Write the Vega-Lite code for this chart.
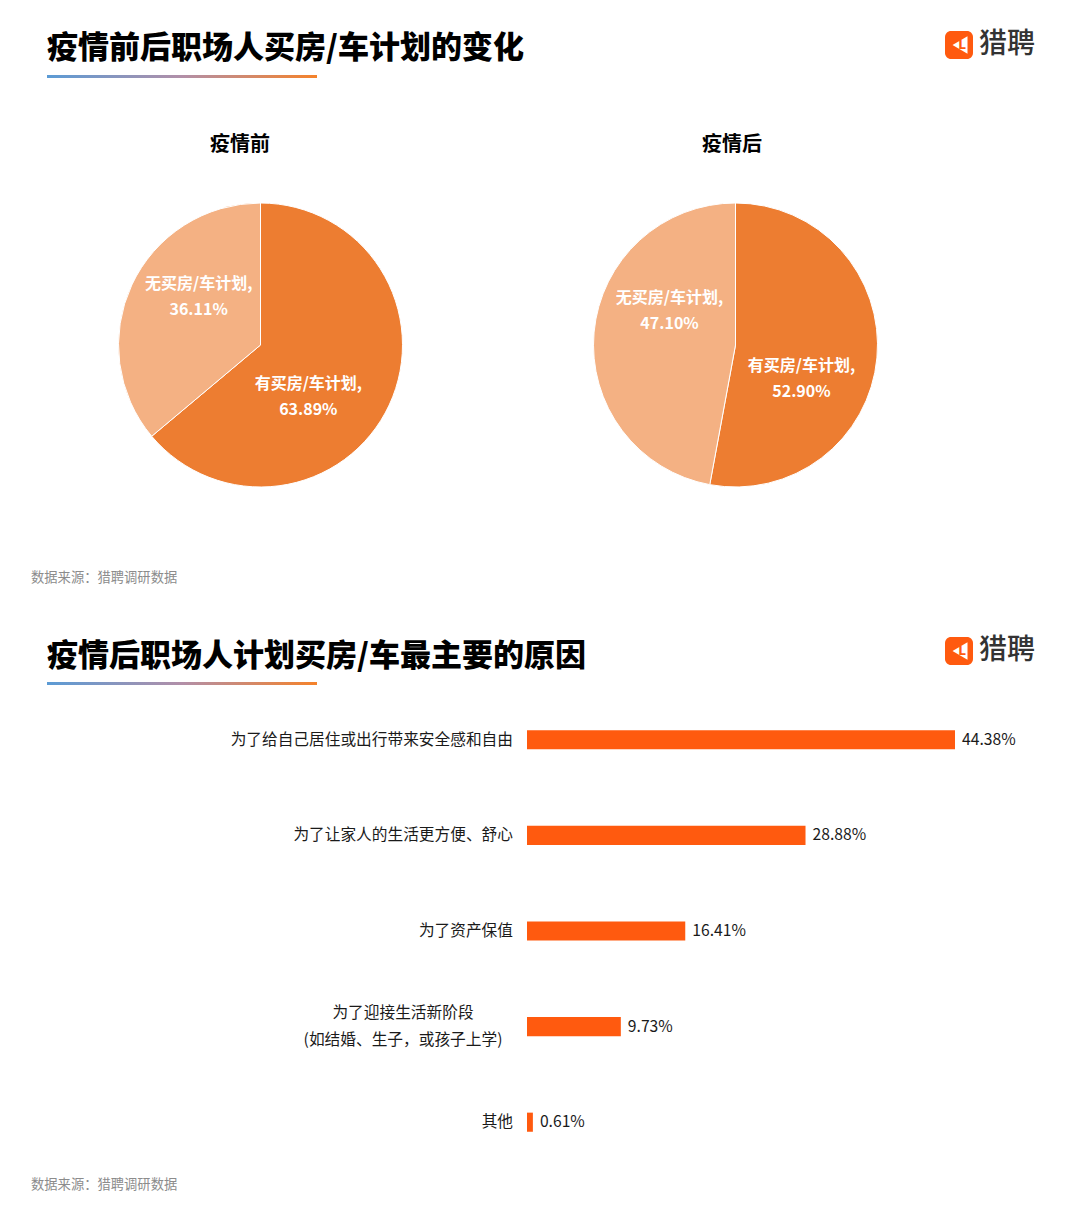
{
  "$schema": "https://vega.github.io/schema/vega-lite/v6.json",
  "background": "white",
  "padding": 0,
  "spacing": 0,
  "config": {"view": {"stroke": null}, "font": "Noto Sans CJK SC", "concat": {"spacing": 0}},
  "vconcat": [
    {
      "width": 1080,
      "height": 165,
      "layer": [
        {
          "data": {"values": [{"t": "疫情前后职场人买房/车计划的变化"}]},
          "mark": {"type": "text", "align": "left", "baseline": "middle", "fontSize": 31, "fontWeight": 900, "color": "#000000"},
          "encoding": {
            "text": {"field": "t"},
            "x": {"datum": 47, "type": "quantitative", "scale": {"domain": [0, 1080], "nice": false, "zero": false}, "axis": null},
            "y": {"datum": 49, "type": "quantitative", "scale": {"domain": [0, 165], "reverse": true, "nice": false, "zero": false}, "axis": null}
          }
        },
        {
          "data": {"values": [{"item": "underline"}]},
          "mark": {"type": "rect", "fill": {"gradient": "linear", "x1": 0, "y1": 0, "x2": 1, "y2": 0, "stops": [{"offset": 0, "color": "#5B9BD5"}, {"offset": 0.5, "color": "#B28FA8"}, {"offset": 1, "color": "#F5822A"}]}},
          "encoding": {
            "x": {"datum": 47, "type": "quantitative"},
            "x2": {"datum": 317},
            "y": {"datum": 75, "type": "quantitative"},
            "y2": {"datum": 78}
          }
        },
        {
          "data": {"values": [{"item": "logo"}]},
          "mark": {"type": "rect", "fill": "#FF5A0F", "cornerRadius": 6},
          "encoding": {
            "x": {"datum": 945, "type": "quantitative"},
            "x2": {"datum": 973},
            "y": {"datum": 31, "type": "quantitative"},
            "y2": {"datum": 59}
          }
        },
        {
          "data": {"values": [{"item": "logo"}]},
          "mark": {"type": "point", "shape": "triangle-left", "filled": true, "fill": "white", "opacity": 1, "size": 300},
          "encoding": {
            "x": {"datum": 960, "type": "quantitative"},
            "y": {"datum": 45, "type": "quantitative"}
          }
        },
        {
          "data": {"values": [{"t": "L"}]},
          "mark": {"type": "text", "align": "center", "baseline": "middle", "fontSize": 12, "fontWeight": "bold", "color": "#FF5A0F", "font": "DejaVu Sans"},
          "encoding": {
            "text": {"field": "t"},
            "x": {"datum": 962, "type": "quantitative"},
            "y": {"datum": 45, "type": "quantitative"}
          }
        },
        {
          "data": {"values": [{"t": "猎聘"}]},
          "mark": {"type": "text", "align": "left", "baseline": "middle", "fontSize": 28, "fontWeight": 500, "color": "#333333"},
          "encoding": {
            "text": {"field": "t"},
            "x": {"datum": 979, "type": "quantitative"},
            "y": {"datum": 45, "type": "quantitative"}
          }
        },
        {
          "data": {"values": [{"t": "疫情前", "cx": 240}, {"t": "疫情后", "cx": 732}]},
          "mark": {"type": "text", "align": "center", "baseline": "middle", "fontSize": 20, "fontWeight": "bold", "color": "#000000"},
          "encoding": {
            "text": {"field": "t"},
            "x": {"field": "cx", "type": "quantitative"},
            "y": {"datum": 145, "type": "quantitative"}
          }
        }
      ]
    },
    {
      "spacing": 0,
      "hconcat": [
        {
          "width": 23,
          "height": 360,
          "data": {"values": []},
          "mark": "point"
        },
        {
          "width": 475,
          "height": 360,
          "data": {"values": [
            {"status": "有买房/车计划", "pct": 63.89, "label": "有买房/车计划,\n63.89%"},
            {"status": "无买房/车计划", "pct": 36.11, "label": "无买房/车计划,\n36.11%"}
          ]},
          "resolve": {"scale": {"theta": "independent"}},
          "layer": [
            {
              "mark": {"type": "arc", "outerRadius": 142, "stroke": "white", "strokeWidth": 1},
              "encoding": {
                "theta": {"field": "pct", "type": "quantitative", "stack": true},
                "order": {"field": "pct", "sort": "descending"},
                "color": {"field": "status", "type": "nominal", "scale": {"domain": ["有买房/车计划", "无买房/车计划"], "range": ["#ED7D31", "#F4B183"]}, "legend": null}
              }
            },
            {
              "mark": {"type": "text", "radius": 74, "dx": -7, "dy": -11, "fontSize": 16, "fontWeight": "bold", "fill": "white", "lineBreak": "\n", "lineHeight": 26, "align": "center", "baseline": "middle"},
              "encoding": {
                "theta": {"field": "pct", "type": "quantitative", "stack": true, "scale": {"range": [0.3, 6.583]}},
                "order": {"field": "pct", "sort": "descending"},
                "text": {"field": "label"}
              }
            }
          ]
        },
        {
          "width": 475,
          "height": 360,
          "data": {"values": [
            {"status": "有买房/车计划", "pct": 52.90, "label": "有买房/车计划,\n52.90%"},
            {"status": "无买房/车计划", "pct": 47.10, "label": "无买房/车计划,\n47.10%"}
          ]},
          "resolve": {"scale": {"theta": "independent"}},
          "layer": [
            {
              "mark": {"type": "arc", "outerRadius": 142, "stroke": "white", "strokeWidth": 1},
              "encoding": {
                "theta": {"field": "pct", "type": "quantitative", "stack": true},
                "order": {"field": "pct", "sort": "descending"},
                "color": {"field": "status", "type": "nominal", "scale": {"domain": ["有买房/车计划", "无买房/车计划"], "range": ["#ED7D31", "#F4B183"]}, "legend": null}
              }
            },
            {
              "mark": {"type": "text", "radius": 74, "dy": -13, "fontSize": 16, "fontWeight": "bold", "fill": "white", "lineBreak": "\n", "lineHeight": 26, "align": "center", "baseline": "middle"},
              "encoding": {
                "theta": {"field": "pct", "type": "quantitative", "stack": true, "scale": {"range": [0.38, 6.663]}},
                "order": {"field": "pct", "sort": "descending"},
                "text": {"field": "label"}
              }
            }
          ]
        }
      ]
    },
    {
      "width": 1080,
      "height": 167,
      "layer": [
        {
          "data": {"values": [{"t": "数据来源：猎聘调研数据"}]},
          "mark": {"type": "text", "align": "left", "baseline": "middle", "fontSize": 13.3, "color": "#8C8C8C"},
          "encoding": {
            "text": {"field": "t"},
            "x": {"datum": 31, "type": "quantitative", "scale": {"domain": [0, 1080], "nice": false, "zero": false}, "axis": null},
            "y": {"datum": 53, "type": "quantitative", "scale": {"domain": [0, 167], "reverse": true, "nice": false, "zero": false}, "axis": null}
          }
        },
        {
          "data": {"values": [{"t": "疫情后职场人计划买房/车最主要的原因"}]},
          "mark": {"type": "text", "align": "left", "baseline": "middle", "fontSize": 31, "fontWeight": 900, "color": "#000000"},
          "encoding": {
            "text": {"field": "t"},
            "x": {"datum": 47, "type": "quantitative"},
            "y": {"datum": 132, "type": "quantitative"}
          }
        },
        {
          "data": {"values": [{"item": "underline"}]},
          "mark": {"type": "rect", "fill": {"gradient": "linear", "x1": 0, "y1": 0, "x2": 1, "y2": 0, "stops": [{"offset": 0, "color": "#5B9BD5"}, {"offset": 0.5, "color": "#B28FA8"}, {"offset": 1, "color": "#F5822A"}]}},
          "encoding": {
            "x": {"datum": 47, "type": "quantitative"},
            "x2": {"datum": 317},
            "y": {"datum": 157, "type": "quantitative"},
            "y2": {"datum": 160}
          }
        },
        {
          "data": {"values": [{"item": "logo"}]},
          "mark": {"type": "rect", "fill": "#FF5A0F", "cornerRadius": 6},
          "encoding": {
            "x": {"datum": 945, "type": "quantitative"},
            "x2": {"datum": 973},
            "y": {"datum": 112, "type": "quantitative"},
            "y2": {"datum": 140}
          }
        },
        {
          "data": {"values": [{"item": "logo"}]},
          "mark": {"type": "point", "shape": "triangle-left", "filled": true, "fill": "white", "opacity": 1, "size": 300},
          "encoding": {
            "x": {"datum": 960, "type": "quantitative"},
            "y": {"datum": 126, "type": "quantitative"}
          }
        },
        {
          "data": {"values": [{"t": "L"}]},
          "mark": {"type": "text", "align": "center", "baseline": "middle", "fontSize": 12, "fontWeight": "bold", "color": "#FF5A0F", "font": "DejaVu Sans"},
          "encoding": {
            "text": {"field": "t"},
            "x": {"datum": 962, "type": "quantitative"},
            "y": {"datum": 126, "type": "quantitative"}
          }
        },
        {
          "data": {"values": [{"t": "猎聘"}]},
          "mark": {"type": "text", "align": "left", "baseline": "middle", "fontSize": 28, "fontWeight": 500, "color": "#333333"},
          "encoding": {
            "text": {"field": "t"},
            "x": {"datum": 979, "type": "quantitative"},
            "y": {"datum": 126, "type": "quantitative"}
          }
        }
      ]
    },
    {
      "width": 1080,
      "height": 478,
      "data": {"values": [
        {"reason": "为了给自己居住或出行带来安全感和自由", "pct": 44.38, "lbl": "44.38%"},
        {"reason": "为了让家人的生活更方便、舒心", "pct": 28.88, "lbl": "28.88%"},
        {"reason": "为了资产保值", "pct": 16.41, "lbl": "16.41%"},
        {"reason": "为了迎接生活新阶段\n(如结婚、生子，或孩子上学)", "pct": 9.73, "lbl": "9.73%"},
        {"reason": "其他", "pct": 0.61, "lbl": "0.61%"}
      ]},
      "encoding": {
        "y": {
          "field": "reason",
          "type": "nominal",
          "sort": null,
          "scale": {"paddingInner": 0.8, "paddingOuter": 0.4},
          "axis": null
        }
      },
      "layer": [
        {
          "mark": {"type": "bar", "color": "#FF5A0F"},
          "encoding": {
            "x": {"field": "pct", "type": "quantitative", "scale": {"domain": [0, 44.38], "range": [527, 955], "nice": false}, "axis": null}
          }
        },
        {
          "mark": {"type": "text", "align": "left", "baseline": "middle", "dx": 7, "fontSize": 15.7, "color": "#1A1A1A"},
          "encoding": {
            "x": {"field": "pct", "type": "quantitative"},
            "text": {"field": "lbl"}
          }
        },
        {
          "transform": [{"filter": "datum.pct != 9.73"}],
          "mark": {"type": "text", "align": "right", "baseline": "middle", "dx": -14, "fontSize": 15.7, "color": "#1A1A1A"},
          "encoding": {
            "x": {"datum": 0, "type": "quantitative"},
            "text": {"field": "reason"}
          }
        },
        {
          "transform": [{"filter": "datum.pct == 9.73"}],
          "mark": {"type": "text", "align": "center", "baseline": "middle", "dx": -124, "dy": -14, "fontSize": 15.7, "color": "#1A1A1A", "lineBreak": "\n", "lineHeight": 27},
          "encoding": {
            "x": {"datum": 0, "type": "quantitative"},
            "text": {"field": "reason"}
          }
        }
      ]
    },
    {
      "width": 1080,
      "height": 51,
      "data": {"values": [{"t": "数据来源：猎聘调研数据"}]},
      "mark": {"type": "text", "align": "left", "baseline": "middle", "fontSize": 13.3, "color": "#8C8C8C"},
      "encoding": {
        "text": {"field": "t"},
        "x": {"datum": 31, "type": "quantitative", "scale": {"domain": [0, 1080], "nice": false, "zero": false}, "axis": null},
        "y": {"datum": 15, "type": "quantitative", "scale": {"domain": [0, 51], "reverse": true, "nice": false, "zero": false}, "axis": null}
      }
    }
  ]
}
